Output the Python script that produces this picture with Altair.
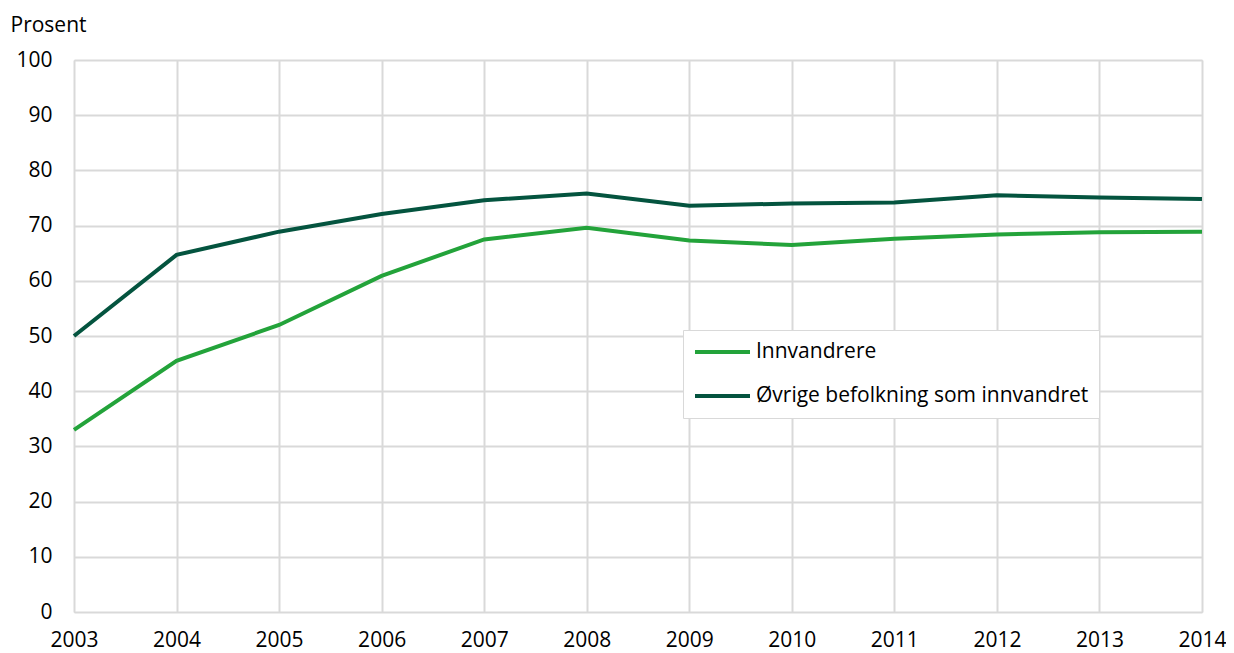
import altair as alt
import pandas as pd

years = [2003, 2004, 2005, 2006, 2007, 2008, 2009, 2010, 2011, 2012, 2013, 2014]
innvandrere = [33.0, 45.5, 52.0, 60.9, 67.5, 69.6, 67.3, 66.5, 67.6, 68.4, 68.8, 68.9]
ovrige = [50.0, 64.7, 68.9, 72.1, 74.6, 75.8, 73.6, 74.0, 74.2, 75.5, 75.1, 74.8]
series_names = ["Innvandrere", "Øvrige befolkning som innvandret"]
series_colors = ["#23a33a", "#04543f"]
y_ticks = [0, 10, 20, 30, 40, 50, 60, 70, 80, 90, 100]

rows = []
for name, vals in zip(series_names, [innvandrere, ovrige]):
    for yr, v in zip(years, vals):
        rows.append({"year": yr, "value": v, "serie": name})
df = pd.DataFrame(rows)

FONT = "Open Sans"
FS = 21

chart = alt.Chart(df).mark_line(strokeWidth=4).encode(
    x=alt.X("year:Q", scale=alt.Scale(domain=[2003, 2014], nice=False, zero=False),
            axis=alt.Axis(values=years, format="d", title=None, grid=True,
                          ticks=False, domain=False, labelPadding=17,
                          labelFontSize=FS, labelColor="#000000", labelFont=FONT,
                          gridColor="#d9d9d9", gridWidth=2, labelFlush=False)),
    y=alt.Y("value:Q", scale=alt.Scale(domain=[0, 100], nice=False),
            axis=alt.Axis(values=y_ticks, title="Prosent", titleAngle=0,
                          titleAlign="left", titleAnchor="end", titleX=-64, titleY=-25,
                          titleFontSize=FS, titleFontWeight="normal", titleColor="#000000",
                          titleFont=FONT, ticks=False, domain=False, labelPadding=22,
                          labelFontSize=FS, labelColor="#000000", labelFont=FONT,
                          gridColor="#d9d9d9", gridWidth=2)),
    color=alt.Color("serie:N", scale=alt.Scale(domain=series_names, range=series_colors),
                    legend=alt.Legend(title=None, orient="none", legendX=609, legendY=270,
                                      symbolType="stroke", symbolSize=3025, symbolStrokeWidth=4,
                                      labelFontSize=FS, labelFont=FONT, labelColor="#000000",
                                      labelOffset=4, rowPadding=20, padding=10,
                                      clipHeight=24,
                                      strokeColor="#d9d9d9", fillColor="#ffffff",
                                      labelLimit=400)),
).properties(
    width=1128, height=552,
    autosize=alt.AutoSizeParams(type="none"),
    padding={"left": 66, "top": 52, "right": 24, "bottom": 40},
).configure_view(stroke=None).configure(font=FONT)

chart.save("out.html", embed_options={"renderer": "svg", "actions": False})
